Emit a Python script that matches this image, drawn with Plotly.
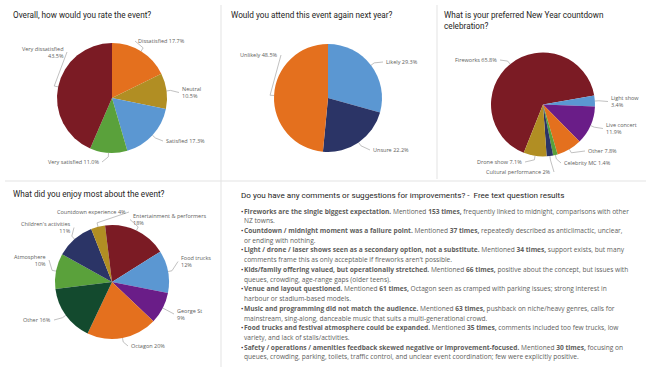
import math
import plotly.graph_objects as go

W, H = 651, 376

# ---------------- data ----------------
rate_labels = ["Dissatisfied", "Neutral", "Satisfied", "Very satisfied", "Very dissatisfied"]
rate_values = [17.7, 10.5, 17.3, 11.0, 43.5]

attend_labels = ["Likely", "Unsure", "Unlikely"]
attend_values = [29.3, 22.2, 48.5]

pref_labels = ["Fireworks", "Light show", "Live concert", "Other", "Celebrity MC",
               "Cultural performance", "Drone show"]
pref_values = [65.8, 3.4, 11.9, 7.8, 1.4, 2, 7.1]

enjoy_labels = ["Atmosphere", "Children's activities", "Countdown experience",
                "Entertainment & performers", "Food trucks", "George St", "Octagon", "Other"]
enjoy_values = [10, 11, 4, 18, 12, 9, 20, 16]

comment_heads = [
    "Fireworks are the single biggest expectation.",
    "Countdown / midnight moment was a failure point.",
    "Light / drone / laser shows seen as a secondary option, not a substitute.",
    "Kids/family offering valued, but operationally stretched.",
    "Venue and layout questioned.",
    "Music and programming did not match the audience.",
    "Food trucks and festival atmosphere could be expanded.",
    "Safety / operations / amenities feedback skewed negative or improvement-focused.",
]
comment_counts = [153, 37, 34, 66, 61, 63, 35, 30]
comment_rest1 = [
    "frequently linked to midnight, comparisons with other",
    "repeatedly described as anticlimactic, unclear,",
    "support exists, but many",
    "positive about the concept, but issues with",
    "Octagon seen as cramped with parking issues; strong interest in",
    "pushback on niche/heavy genres, calls for",
    "comments included too few trucks, low",
    "focusing on",
]
comment_rest2 = [
    "NZ towns.",
    "or ending with nothing.",
    "comments frame this as only acceptable if fireworks aren't possible.",
    "queues, crowding, age-range gaps (older teens).",
    "harbour or stadium-based models.",
    "mainstream, sing-along, danceable music that suits a multi-generational crowd.",
    "variety, and lack of stalls/activities.",
    "queues, crowding, parking, toilets, traffic control, and unclear event coordination; few were explicitly positive.",
]

# ---------------- style ----------------
RED, ORANGE, GOLD, BLUE = "#7B1B24", "#E4701E", "#B18E23", "#5B97D2"
GREEN, NAVY, PURPLE, DKGREEN = "#5AA13B", "#2B3466", "#6A1D88", "#134A2E"
TITLE_C, LABEL_C, LINE_C = "#252423", "#605E5C", "#A6A6A6"
TFONT = "Roboto"
LFONT = "Open Sans"

pies = [
    dict(labels=rate_labels, values=rate_values, colors=[ORANGE, GOLD, BLUE, GREEN, RED],
         cx=112, cy=98, r=55, rot=0,
         lab=[(137, 41, "l", False), (181, 92.5, "l", True), (165, 141, "l", False),
              (100, 162, "r", False), (65, 52, "r", True)]),
    dict(labels=attend_labels, values=attend_values, colors=[BLUE, NAVY, ORANGE],
         cx=328, cy=98, r=54, rot=0,
         lab=[(385, 62, "l", False), (372, 150, "l", False), (279, 55, "r", False)]),
    dict(labels=pref_labels, values=pref_values,
         colors=[RED, BLUE, PURPLE, ORANGE, GREEN, NAVY, GOLD],
         cx=543, cy=104.5, r=52, rot=-158.3,
         lab=[(498, 60, "r", False), (610, 101.5, "l", True), (605, 128.5, "l", True),
              (587, 151, "l", False), (563, 163, "l", False), (552, 172, "r", False),
              (523, 162, "r", False)]),
    dict(labels=enjoy_labels, values=enjoy_values,
         colors=[GREEN, NAVY, GOLD, RED, BLUE, PURPLE, ORANGE, DKGREEN],
         cx=112, cy=282, r=57, rot=-97,
         lab=[(47, 260, "r", True), (72, 227.5, "r", True), (127, 212, "r", False),
              (132, 219.5, "l", True), (180, 261.5, "l", True), (176, 314, "l", True),
              (130, 346, "l", False), (52, 320, "r", False)]),
]


def px(x):
    return x / W


def py(y):
    return 1 - y / H


def fmt(v):
    return f"{v}%"


fig = go.Figure()
annotations = []
shapes = []

for p in pies:
    cx, cy, r = p["cx"], p["cy"], p["r"]
    fig.add_trace(go.Pie(
        labels=p["labels"], values=p["values"], sort=False, direction="clockwise",
        rotation=p["rot"], textinfo="none", hole=0,
        marker=dict(colors=p["colors"], line=dict(width=0)),
        domain=dict(x=[px(cx - r), px(cx + r)], y=[py(cy + r), py(cy - r)]),
        showlegend=False,
    ))
    total = sum(p["values"])
    cum = 0
    for lab, v, (lx, ly, side, brk) in zip(p["labels"], p["values"], p["lab"]):
        mid = math.radians(p["rot"] + 360 * (cum + v / 2) / total)
        cum += v
        ex, ey = cx + r * math.sin(mid), cy - r * math.cos(mid)
        bx, by = cx + (r + 4) * math.sin(mid), cy - (r + 4) * math.cos(mid)
        endx = lx - 2 if side == "l" else lx + 2
        shapes.append(dict(type="path", xref="paper", yref="paper",
                           path=f"M{px(ex)},{py(ey)} L{px(bx)},{py(by)} L{px(endx)},{py(ly)}",
                           line=dict(color=LINE_C, width=0.7)))
        txt = f"{lab}<br>{fmt(v)}" if brk else f"{lab} {fmt(v)}"
        annotations.append(dict(
            x=px(lx), y=py(ly), xref="paper", yref="paper", text=txt, showarrow=False,
            xanchor="left" if side == "l" else "right", yanchor="middle",
            align="left" if side == "l" else "right", borderpad=0,
            font=dict(family=LFONT, size=5.5, color=LABEL_C)))

titles = [
    ("Overall, how would you rate the event?", 12, 15),
    ("Would you attend this event again next year?", 230, 15),
    ("What is your preferred New Year countdown<br>celebration?", 443, 21),
    ("What did you enjoy most about the event?", 12, 194),
]
for t, x, y in titles:
    annotations.append(dict(x=px(x), y=py(y), xref="paper", yref="paper", text=t,
                            showarrow=False, xanchor="left", yanchor="middle", align="left",
                            borderpad=0,
                            font=dict(family=TFONT, size=8.2, color=TITLE_C, weight=400)))

annotations.append(dict(
    x=px(240), y=py(195), xref="paper", yref="paper",
    text="Do you have any comments or suggestions for improvements? -  Free text question results",
    showarrow=False, xanchor="left", yanchor="middle", borderpad=0,
    font=dict(family=TFONT, size=8.1, color=TITLE_C, weight=400)))

DARK = "#252423"
y0, dy = 211, 9.73
for i, (hd, n, r1, r2) in enumerate(zip(comment_heads, comment_counts, comment_rest1, comment_rest2)):
    l1 = (f"<b>{hd}</b> Mentioned <b>{n} times,</b> {r1}")
    annotations.append(dict(x=px(239.5), y=py(y0 + 2 * i * dy), xref="paper", yref="paper",
                            text="·", showarrow=False, xanchor="left", yanchor="middle",
                            borderpad=0,
                            font=dict(family=LFONT, size=8, color=DARK, weight=700)))
    annotations.append(dict(x=px(242.5), y=py(y0 + 2 * i * dy), xref="paper", yref="paper",
                            text=l1, showarrow=False, xanchor="left", yanchor="middle",
                            borderpad=0,
                            font=dict(family=LFONT, size=6.6, color=LABEL_C)))
    annotations.append(dict(x=px(242.5), y=py(y0 + (2 * i + 1) * dy), xref="paper", yref="paper",
                            text=r2, showarrow=False, xanchor="left", yanchor="middle",
                            borderpad=0,
                            font=dict(family=LFONT, size=6.6, color=LABEL_C)))

# panel dividers
for x0_, y0_, x1_, y1_ in [(221, 5, 221, 367), (437, 5, 437, 179), (5, 181, 646, 181)]:
    shapes.append(dict(type="line", xref="paper", yref="paper",
                       x0=px(x0_), y0=py(y0_), x1=px(x1_), y1=py(y1_),
                       line=dict(color="#E3E3E3", width=1)))

fig.update_layout(width=W, height=H, margin=dict(l=0, r=0, t=0, b=0),
                  paper_bgcolor="white", plot_bgcolor="white",
                  annotations=annotations, shapes=shapes)
fig.write_html("out.html", config={"displayModeBar": False},
               post_script="document.body.style.margin='0';")
